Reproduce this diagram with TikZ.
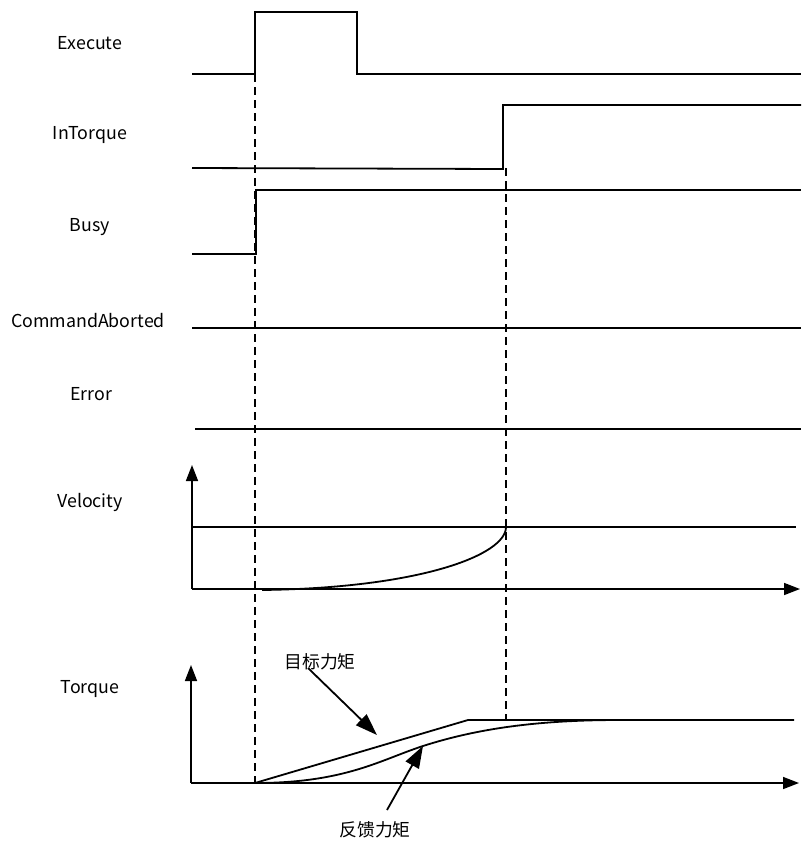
\documentclass[tikz,border=0pt]{standalone}
\usepackage{fontspec}
\setmainfont{Noto Sans CJK SC}
\usetikzlibrary{arrows.meta}

\tikzset{
	sig/.style = {line width=1.8pt},
	guide/.style = {line width=1.3pt, dash pattern=on 8pt off 5pt},
	axis/.style = {line width=1.6pt, -{Triangle[length=16pt,width=12pt]}},
	pointer/.style = {line width=1.8pt, -{Triangle[length=22pt,width=15pt]}},
	lbl/.style = {font=\fontsize{17.8}{20}\selectfont, inner sep=0pt}
}

\begin{document}
\begin{tikzpicture}[x=1pt,y=-1pt]

	\useasboundingbox (0,0) rectangle (801,841);

	\node[lbl] (execute) at (90,43) {Execute};
	\node[lbl] (intorque) at (90,135) {InTorque};
	\node[lbl] (busy) at (90,227) {Busy};
	\node[lbl] (aborted) at (88,321) {CommandAborted};
	\node[lbl] (error) at (91,394) {Error};
	\node[lbl] (velocity) at (90,502) {Velocity};
	\node[lbl] (torque) at (90,689) {Torque};

	\draw[sig] (192,74) -- (255,74) -- (255,12) -- (357,12) -- (357,74) -- (801,74);
	\draw[sig] (192,168) -- (503,169) -- (503,105) -- (801,105);
	\draw[sig] (192,254) -- (256,254) -- (256,190) -- (801,190);
	\draw[sig] (192,328) -- (801,328);
	\draw[sig] (195,429) -- (801,429);

	\coordinate (va) at (192,589);
	\draw[axis] (va) -- (192,465);
	\draw[axis] (va) -- (800,589);
	\draw[sig] (192,527) -- (796,527);
	\draw[sig] (262,590) .. controls (420,588) and (506,555) .. (506,527);

	\coordinate (ta) at (191,783);
	\draw[axis] (ta) -- (191,665);
	\draw[axis] (ta) -- (799,783);
	\draw[sig] (255,783) -- (468,720) -- (794,720);
	\draw[sig] (255,783) .. controls (345,783) and (380,760) .. (423,746)
		.. controls (479,728) and (540,720) .. (620,720);

	\draw[guide] (255,74) -- (255,783);
	\draw[guide] (506,168) -- (506,720);

	\node[lbl] (target) at (320,662) {目标力矩};
	\node[lbl] (feedback) at (375,830) {反馈力矩};
	\coordinate (tgtfrom) at (308,668);
	\coordinate (tgtto) at (377,735);
	\coordinate (fbfrom) at (387,810);
	\coordinate (fbto) at (423,746);
	\draw[pointer] (tgtfrom) -- (tgtto);
	\draw[pointer] (fbfrom) -- (fbto);

\end{tikzpicture}
\end{document}
